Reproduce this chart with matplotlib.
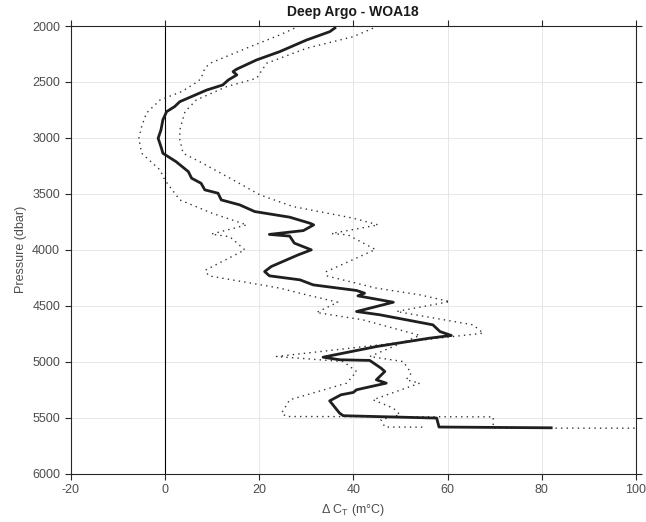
import matplotlib
matplotlib.use('Agg')
import matplotlib.pyplot as plt

plt.rcParams['font.family'] = ['Liberation Sans', 'DejaVu Sans']
plt.rcParams['axes.unicode_minus'] = False

# mean profile (solid)
mean_pres = [2018, 2051, 2125, 2229, 2303, 2387, 2408, 2437, 2482, 2527, 2572, 2676,
             2720, 2765, 2839, 2928, 3003, 3092, 3137, 3212, 3301, 3360, 3405, 3464,
             3494, 3554, 3598, 3658, 3708, 3762, 3777, 3828, 3862, 3877, 3940, 4000,
             4045, 4149, 4194, 4232, 4268, 4313, 4363, 4387, 4411, 4468, 4551, 4580,
             4670, 4730, 4765, 4789, 4864, 4959, 4982, 4988, 5057, 5087, 5161, 5191,
             5250, 5274, 5295, 5349, 5459, 5482, 5503, 5583, 5590]
mean_dct = [36.1, 35.0, 30.1, 24.4, 19.5, 15.2, 14.5, 15.3, 13.5, 12.3, 8.9, 3.2,
            2.1, 0.4, -0.4, -0.8, -1.4, -0.7, -0.4, 2.4, 5.0, 5.7, 7.7, 8.5,
            11.3, 12.0, 15.9, 19.1, 26.5, 30.8, 31.6, 29.4, 22.2, 26.5, 27.5, 31.1,
            28.3, 22.6, 21.2, 22.2, 28.7, 31.5, 40.7, 42.4, 41.0, 48.5, 40.7, 45.6,
            56.9, 58.4, 60.8, 56.2, 44.9, 33.6, 37.1, 43.5, 45.9, 46.7, 44.9, 47.0,
            40.7, 40.0, 37.4, 35.0, 37.1, 37.9, 57.7, 58.2, 82.0]

# first dotted bound (starts on the left)
lower_pres = [2020, 2080, 2199, 2333, 2378, 2467, 2497, 2586, 2661, 2779, 2899, 3003,
              3137, 3286, 3375, 3554, 3672, 3777, 3859, 3883, 4000, 4182, 4232, 4342,
              4402, 4468, 4560, 4625, 4764, 4953, 4998, 5102, 5161, 5191, 5340, 5414,
              5473, 5518, 5583, 5584]
lower_dct = [27.5, 24.4, 17.3, 9.6, 8.5, 7.7, 7.0, 3.6, -1.0, -3.9, -4.9, -5.5,
             -4.9, -1.0, 0.0, 3.2, 10.0, 17.4, 9.9, 13.8, 17.0, 8.6, 9.3, 24.4,
             30.1, 36.7, 32.2, 42.0, 54.1, 43.5, 50.6, 52.3, 51.2, 54.1, 44.2, 48.5,
             49.9, 45.9, 46.7, 55.5]

# second dotted bound (starts on the right)
upper_pres = [2020, 2095, 2199, 2333, 2467, 2542, 2661, 2765, 2928, 3018, 3137, 3212,
              3375, 3509, 3613, 3717, 3777, 3854, 3867, 3997, 4194, 4232, 4342, 4402,
              4462, 4551, 4670, 4744, 4953, 4998, 5087, 5191, 5340, 5459, 5489, 5492,
              5592, 5594]
upper_dct = [44.2, 40.0, 30.1, 21.6, 19.5, 13.1, 6.7, 4.3, 3.2, 3.2, 3.9, 7.4,
             14.5, 20.2, 27.2, 40.0, 45.3, 35.4, 38.9, 44.7, 34.3, 34.3, 44.9, 54.1,
             60.5, 49.2, 65.4, 67.6, 23.7, 37.9, 40.7, 38.6, 26.5, 24.8, 25.8, 69.7,
             69.7, 110.0]

x_ticks = [-20, 0, 20, 40, 60, 80, 100]
y_ticks = [2000, 2500, 3000, 3500, 4000, 4500, 5000, 5500, 6000]

fig = plt.figure(figsize=(6.46, 5.22), dpi=100)
ax = fig.add_axes([70.5 / 646, 1 - 473.7 / 522, (636 - 70.5) / 646, (473.7 - 26) / 522])

ax.grid(True, color='#e3e3e3', lw=0.6)
ax.set_axisbelow(True)
ax.axvline(0, color='black', lw=0.8)

ax.plot(lower_dct, lower_pres, ls=(0, (1, 3)), color='#333333', lw=1.0)
ax.plot(upper_dct, upper_pres, ls=(0, (1, 3)), color='#333333', lw=1.0)
ax.plot(mean_dct, mean_pres, color='#1f1f1f', lw=2.0)

ax.set_xlim(-20, 100)
ax.set_ylim(6000, 2000)
ax.set_xticks(x_ticks)
ax.set_yticks(y_ticks)
ax.tick_params(direction='out', top=True, right=True, length=4, width=0.8,
               colors='#262626', labelcolor='#4d4d4d', labelsize=9)
for s in ax.spines.values():
    s.set_color('#262626')
    s.set_linewidth(0.8)

ax.set_title('Deep Argo - WOA18', fontsize=10, fontweight='bold', color='#1a1a1a', pad=7)
ax.set_xlabel('Δ C$_\\mathregular{T}$ (m°C)', fontsize=9, color='#4d4d4d')
ax.set_ylabel('Pressure (dbar)', fontsize=9, color='#4d4d4d')

fig.savefig('out.png', dpi=100)
